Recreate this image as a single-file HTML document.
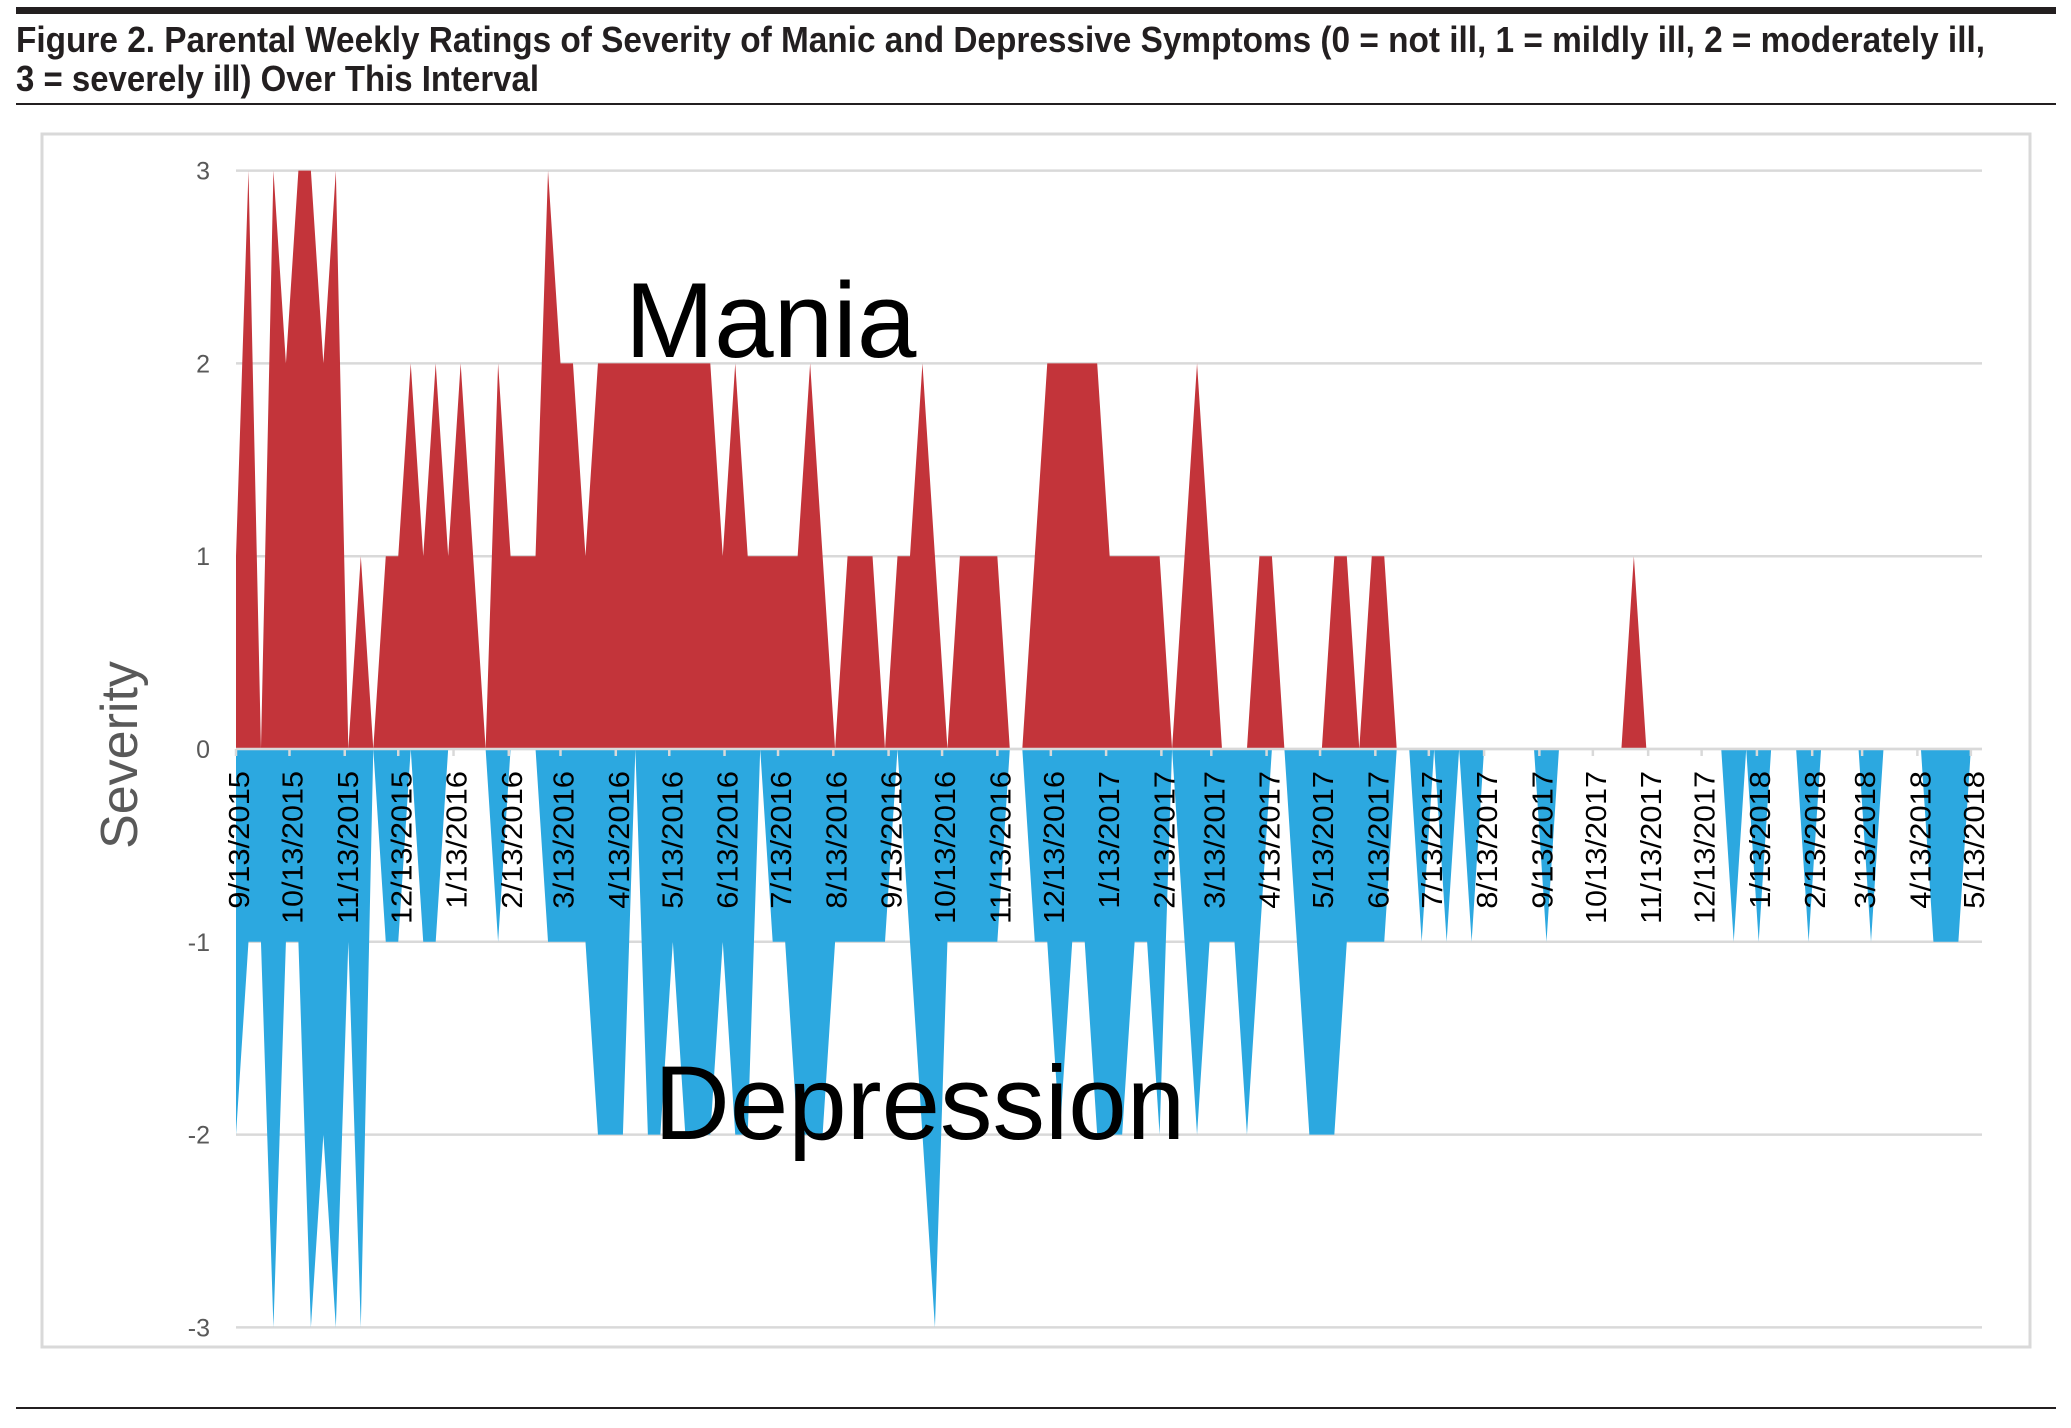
<!DOCTYPE html>
<html>
<head>
<meta charset="utf-8">
<style>
  html,body{margin:0;padding:0;background:#fff;}
  svg{display:block;}
  .ttl{font-family:"Liberation Sans Narrow","Liberation Sans",sans-serif;font-weight:bold;font-size:36px;fill:#231f20;}
</style>
</head>
<body>
<svg id="chart" width="2071" height="1428" viewBox="0 0 2071 1428" xmlns="http://www.w3.org/2000/svg">
  <rect x="16" y="7" width="2040" height="7" fill="#231f20"/>
  <text class="ttl" x="16" y="52" textLength="1969" lengthAdjust="spacingAndGlyphs">Figure 2. Parental Weekly Ratings of Severity of Manic and Depressive Symptoms (0 = not ill, 1 = mildly ill, 2 = moderately ill,</text>
  <text class="ttl" x="16" y="91" textLength="523" lengthAdjust="spacingAndGlyphs">3 = severely ill) Over This Interval</text>
  <rect x="16" y="103" width="2040" height="2" fill="#231f20"/>
  <rect x="42" y="134" width="1988" height="1213" fill="none" stroke="#d9d9d9" stroke-width="3"/>
  <rect x="16" y="1407" width="2040" height="2" fill="#231f20"/>
  <g id="grid"></g>
  <g id="areas"></g>
  <g id="xaxis"></g>
  <g id="yaxis"></g>
  <text x="137" y="755" transform="rotate(-90 137 755)" text-anchor="middle" font-family="'Liberation Sans',sans-serif" font-size="52" fill="#595959">Severity</text>
  <text x="625" y="357" font-family="'Liberation Sans',sans-serif" font-size="107" fill="#000">Mania</text>
  <text x="654" y="1139" font-family="'Liberation Sans',sans-serif" font-size="105" fill="#000">Depression</text>
</svg>
<script>
const startDate = [2015, 8, 13];
const mania = [1,3,0,3,2,3,3,2,3,0,1,0,1,1,2,1,2,1,2,1,0,2,1,1,1,3,2,2,1,2,2,2,2,2,2,2,2,2,2,1,2,1,1,1,1,1,2,1,0,1,1,1,0,1,1,2,1,0,1,1,1,1,0,0,1,2,2,2,2,2,1,1,1,1,1,0,1,2,1,0,0,0,1,1,0,0,0,0,1,1,0,1,1,0,0,0,0,0,0,0,0,0,0,0,0,0,0,0,0,0,0,0,1,0,0,0,0,0,0,0,0,0,0,0,0,0,0,0,0,0,0,0,0,0,0,0,0,0,0,0,0];
const depression = [-2,-1,-1,-3,-1,-1,-3,-2,-3,-1,-3,0,-1,-1,0,-1,-1,0,0,0,0,-1,0,0,0,-1,-1,-1,-1,-2,-2,-2,0,-2,-2,-1,-2,-2,-2,-1,-2,-2,0,-1,-1,-2,-2,-2,-1,-1,-1,-1,-1,0,-1,-2,-3,-1,-1,-1,-1,-1,0,0,-1,-1,-2,-1,-1,-2,-2,-2,-1,-1,-2,0,-1,-2,-1,-1,-1,-2,-1,0,0,-1,-2,-2,-2,-1,-1,-1,-1,0,0,-1,0,-1,0,-1,0,0,0,0,0,-1,0,0,0,0,0,0,0,0,0,0,0,0,0,0,-1,0,-1,0,0,0,-1,0,0,0,0,-1,0,0,0,0,-1,-1,-1,0,0];
const yTicks = [3,2,1,0,-1,-2,-3];
const tickMonths = ["9/13/2015","10/13/2015","11/13/2015","12/13/2015","1/13/2016","2/13/2016","3/13/2016","4/13/2016","5/13/2016","6/13/2016","7/13/2016","8/13/2016","9/13/2016","10/13/2016","11/13/2016","12/13/2016","1/13/2017","2/13/2017","3/13/2017","4/13/2017","5/13/2017","6/13/2017","7/13/2017","8/13/2017","9/13/2017","10/13/2017","11/13/2017","12/13/2017","1/13/2018","2/13/2018","3/13/2018","4/13/2018","5/13/2018"];

const NS = "http://www.w3.org/2000/svg";
const X0 = 236, PX_PER_DAY = 1.783, Y0 = 749, PX_PER_UNIT = 192.8, XEND = 1982;
const t0 = Date.UTC(startDate[0], startDate[1], startDate[2]);
function xDay(d){ return X0 + d * PX_PER_DAY; }
function xWeek(i){ return xDay(i * 7); }
function y(v){ return Y0 - v * PX_PER_UNIT; }
function mk(tag, attrs){ const e = document.createElementNS(NS, tag); for (const k in attrs) e.setAttribute(k, attrs[k]); return e; }

const grid = document.getElementById('grid');
yTicks.forEach(v => {
  const ln = mk('line', {x1: X0, x2: XEND, y1: y(v), y2: y(v), stroke: '#d9d9d9', 'stroke-width': 2.5});
  
  
  grid.appendChild(ln);
});

const areas = document.getElementById('areas');
function areaPath(vals){
  let d = 'M' + xWeek(0) + ',' + y(0);
  vals.forEach((v, i) => { d += ' L' + xWeek(i).toFixed(2) + ',' + y(v).toFixed(2); });
  d += ' L' + xWeek(vals.length - 1).toFixed(2) + ',' + y(0) + ' Z';
  return d;
}
const pm = mk('path', {d: areaPath(mania), fill: '#c3343a'});


areas.appendChild(pm);
const pd = mk('path', {d: areaPath(depression), fill: '#2ca8e0'});


areas.appendChild(pd);

const xaxis = document.getElementById('xaxis');
const axl = mk('line', {x1: X0, x2: XEND, y1: Y0, y2: Y0, stroke: '#d9d9d9', 'stroke-width': 2.5});


xaxis.appendChild(axl);
tickMonths.forEach(lbl => {
  const p = lbl.split('/').map(Number);
  const days = (Date.UTC(p[2], p[0] - 1, p[1]) - t0) / 86400000;
  const tx = xDay(days);
  const tk = mk('line', {x1: tx, x2: tx, y1: Y0, y2: Y0 + 7, stroke: '#d9d9d9', 'stroke-width': 2.5});
  
  
  xaxis.appendChild(tk);
  const bx = tx + 13, by = 771;
  const t = mk('text', {x: bx, y: by, transform: 'rotate(-90 ' + bx + ' ' + by + ')', 'text-anchor': 'end',
    'font-family': "'Liberation Sans Narrow','Liberation Sans',sans-serif", 'font-size': 29, fill: '#000',
    textLength: (lbl.length * 15.3).toFixed(1), lengthAdjust: 'spacingAndGlyphs'});
  t.textContent = lbl;
  
  
  xaxis.appendChild(t);
});

const yaxis = document.getElementById('yaxis');
yTicks.forEach(v => {
  const t = mk('text', {x: 210, y: y(v) + 9, 'text-anchor': 'end', 'font-family': "'Liberation Sans',sans-serif", 'font-size': 25, fill: '#595959'});
  t.textContent = String(v);
  
  
  yaxis.appendChild(t);
});
</script>
</body>
</html>
